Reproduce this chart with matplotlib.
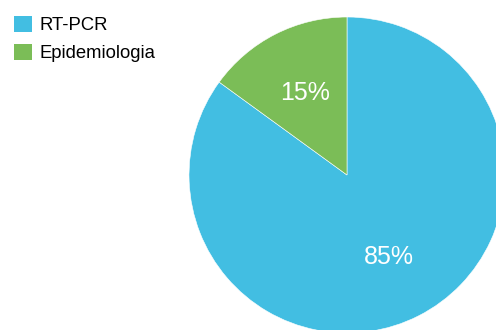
import matplotlib
matplotlib.use("Agg")
import matplotlib.pyplot as plt

labels = ["RT-PCR", "Epidemiologia"]
values = [85, 15]
colors = ["#42BEE2", "#7BBD57"]

plt.rcParams['font.family'] = ['Liberation Sans', 'DejaVu Sans']

fig = plt.figure(figsize=(4.96, 3.30), dpi=100)
ax = fig.add_axes([0, 0, 1, 1])
cx, cy, R = 347, 175, 158
W, H = 496, 330

wedges, texts, autotexts = ax.pie(
    values, colors=colors, startangle=90, counterclock=False,
    radius=1, center=(0, 0), autopct='%1.0f%%', pctdistance=0.58,
    wedgeprops=dict(linewidth=0.4, edgecolor='white'),
    textprops=dict(color='white', fontsize=18), frame=True)
ax.set_xlim(-cx / R, (W - cx) / R)
ax.set_ylim(-(H - cy) / R, cy / R)
ax.set_aspect('equal')
ax.axis('off')

leg = fig.legend(wedges, labels, loc='upper left', bbox_to_anchor=(10 / W, 1 - 12 / H),
                 frameon=False, fontsize=13.3, handlelength=1.0, handleheight=1.0,
                 handletextpad=0.4, labelspacing=0.5, borderaxespad=0, borderpad=0.2)
for h in leg.legend_handles:
    h.set_linewidth(0)

fig.savefig("out.png", dpi=100)
